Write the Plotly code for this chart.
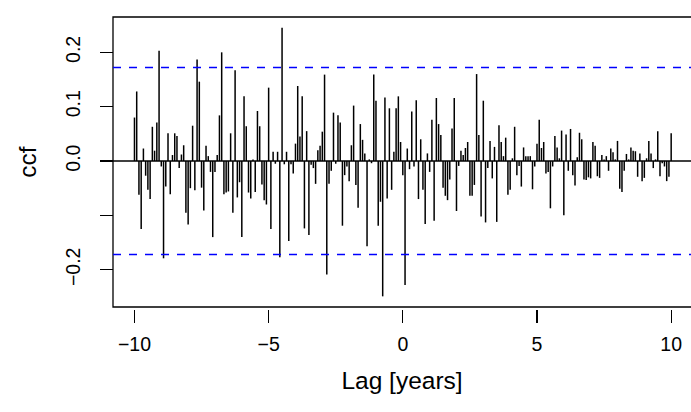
import plotly.graph_objects as go

# ---- data ----
lag_months = list(range(-120, 121))          # monthly lags, shown in years
ccf_values = [
    0.080, 0.128, -0.062, -0.125, 0.023, -0.027, -0.053, -0.070, 0.063, 0.019,
    0.071, 0.203, -0.010, -0.179, -0.047, 0.051, -0.061, 0.011, 0.051, 0.046,
    -0.013, 0.012, 0.029, -0.095, -0.117, -0.050, 0.065, -0.054, 0.187, 0.146,
    -0.049, -0.091, 0.028, 0.009, -0.020, -0.140, -0.020, 0.011, 0.084, 0.200,
    -0.061, -0.058, -0.056, 0.051, -0.095, 0.167, -0.067, -0.039, -0.140, 0.119,
    0.064, -0.058, -0.069, 0.003, -0.057, 0.092, 0.064, -0.043, -0.072, -0.080,
    0.135, -0.125, 0.017, -0.005, 0.017, -0.177, 0.245, -0.006, 0.017, -0.147,
    -0.006, -0.023, 0.032, 0.138, 0.045, 0.119, -0.124, 0.055, -0.136, -0.007,
    -0.013, -0.042, 0.020, 0.028, 0.054, 0.159, -0.209, -0.042, -0.018, 0.089,
    -0.005, 0.084, 0.071, -0.119, -0.026, -0.010, -0.037, 0.029, 0.102, -0.044,
    -0.086, 0.068, 0.039, 0.014, -0.157, 0.003, -0.004, 0.159, 0.111, -0.119,
    -0.075, -0.249, 0.117, -0.069, 0.097, -0.053, 0.017, 0.097, 0.119, 0.035,
    -0.026, -0.228, 0.023, -0.015, 0.091, -0.010, 0.112, -0.070, 0.040, -0.053,
    -0.116, 0.014, -0.020, 0.076, -0.110, 0.116, 0.068, 0.048, -0.049, -0.064,
    -0.072, -0.034, 0.060, 0.116, -0.092, -0.009, 0.019, 0.011, 0.024, 0.035,
    -0.064, -0.064, -0.044, 0.160, 0.048, -0.102, 0.111, -0.113, -0.013, 0.037,
    -0.032, 0.026, -0.112, 0.066, 0.035, 0.009, 0.043, -0.062, -0.053, 0.005,
    0.063, -0.026, -0.009, -0.047, 0.025, 0.009, 0.009, 0.009, -0.052, -0.010,
    0.032, 0.076, 0.024, 0.035, -0.023, -0.020, -0.087, -0.010, 0.046, 0.025,
    0.005, 0.056, -0.100, 0.049, -0.018, 0.059, -0.026, -0.045, 0.007, 0.052,
    0.040, -0.034, -0.035, -0.030, -0.032, 0.035, 0.028, -0.028, -0.031, 0.011,
    0.003, 0.009, -0.018, 0.023, 0.016, 0.003, 0.037, -0.051, -0.057, -0.018,
    0.013, 0.003, 0.025, 0.019, 0.018, -0.029, 0.014, -0.037, -0.031, 0.005,
    0.037, 0.014, -0.013, 0.003, 0.055, -0.028, -0.004, -0.010, -0.037, -0.029,
    0.051,
]
ci_level = 0.172
x_tick_vals = [-10, -5, 0, 5, 10]
x_tick_text = ["\u221210", "\u22125", "0", "5", "10"]
y_tick_vals = [-0.2, -0.1, 0.0, 0.1, 0.2]
y_tick_text = ["\u22120.2", "", "0.0", "0.1", "0.2"]

lag_years = [m / 12 for m in lag_months]

# vertical "h"-type spikes
seg_x, seg_y = [], []
for lx, v in zip(lag_years, ccf_values):
    seg_x += [lx, lx, None]
    seg_y += [0, v, None]

FONT = "Liberation Sans, Arial, Helvetica, sans-serif"

fig = go.Figure()
fig.add_trace(go.Scatter(x=seg_x, y=seg_y, mode="lines",
                         line=dict(color="black", width=1.5),
                         hoverinfo="skip", showlegend=False))

W, H = 691, 412
top, paper_bottom, plot_bottom = 17, 309, 307
paper_h = paper_bottom - top

fig.update_layout(
    width=W, height=H,
    margin=dict(l=113, r=0, t=top, b=H - paper_bottom, pad=0, autoexpand=False),
    paper_bgcolor="white", plot_bgcolor="white",
    font=dict(family=FONT, color="black"),
    showlegend=False,
    xaxis=dict(
        range=[-10.8, 10.739], anchor="free", position=0, automargin=False,
        tickmode="array", tickvals=x_tick_vals, ticktext=x_tick_text,
        ticks="outside", ticklen=13, tickwidth=1.3, tickcolor="black",
        showline=False, showgrid=False, zeroline=False,
        tickfont=dict(size=19.5, family=FONT, color="black"),
        ticklabelstandoff=5,
        title=dict(text="Lag [years]", font=dict(size=24.5, family=FONT, color="black"),
                   standoff=17),
    ),
    yaxis=dict(
        range=[-0.2686, 0.265], domain=[(paper_bottom - plot_bottom) / paper_h, 1],
        anchor="free", position=0, automargin=False,
        tickmode="array", tickvals=y_tick_vals, ticktext=y_tick_text,
        tickangle=-90,
        ticks="outside", ticklen=13, tickwidth=1.3, tickcolor="black",
        showline=False, showgrid=False, zeroline=False,
        tickfont=dict(size=19.5, family=FONT, color="black"),
        ticklabelstandoff=12,
        title=dict(text="ccf", font=dict(size=24.5, family=FONT, color="black"),
                   standoff=17),
    ),
    shapes=[
        # plot box (right side falls outside the window, as in the reference)
        dict(type="rect", xref="x domain", yref="y domain", x0=0, x1=1.05, y0=0, y1=1,
             line=dict(color="black", width=1.3), layer="above"),
        # zero line
        dict(type="line", xref="x domain", yref="y", x0=0, x1=1, y0=0, y1=0,
             line=dict(color="black", width=1.3), layer="above"),
        # confidence bounds
        dict(type="line", xref="x domain", yref="y", x0=0, x1=1, y0=ci_level, y1=ci_level,
             line=dict(color="blue", width=1.4, dash="8px,8px"), layer="above"),
        dict(type="line", xref="x domain", yref="y", x0=0, x1=1, y0=-ci_level, y1=-ci_level,
             line=dict(color="blue", width=1.4, dash="8px,8px"), layer="above"),
    ],
)

fig.write_html(
    "out.html",
    config={"displayModeBar": False, "staticPlot": True},
    post_script="document.body.style.margin='0';document.body.style.overflow='hidden';",
)
